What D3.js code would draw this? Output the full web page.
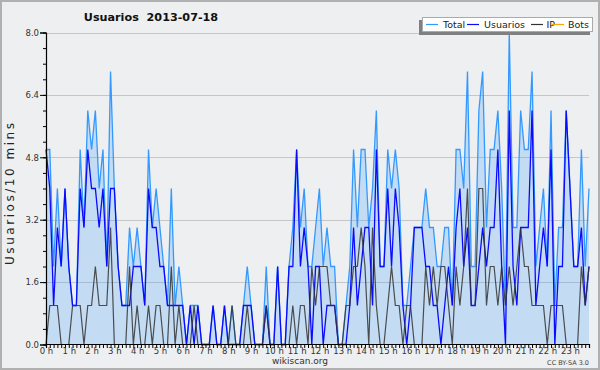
<!DOCTYPE html>
<html>
<head>
<meta charset="utf-8">
<script src="https://cdn.jsdelivr.net/npm/d3@7/dist/d3.min.js"></script>
<style>
  html, body { margin: 0; padding: 0; background: #eeeff0; }
  svg { display: block; }
  text { font-family: "DejaVu Sans", Verdana, sans-serif; }
</style>
</head>
<body>
<svg id="chart" width="600" height="370"></svg>
<script>
// ---- data (10-minute slots, 2013-07-18) ----
const title = "Usuarios  2013-07-18";
const yLabel = "Usuarios/10 mins";
const hourLabels = ["0 h","1 h","2 h","3 h","4 h","5 h","6 h","7 h","8 h","9 h","10 h","11 h",
  "12 h","13 h","14 h","15 h","16 h","17 h","18 h","19 h","20 h","21 h","22 h","23 h"];
const yTicks = [0, 1.6, 3.2, 4.8, 6.4, 8.0];
const seriesNames = ["Total", "Usuarios", "IP", "Bots"];

const total = [5,5,2,4,2,4,2,1,1,5,3,6,5,6,4,5,2,7,4,2,1,1,3,2,3,2,1,5,3,4,3,2,
  1,4,1,2,1,0,1,1,1,0,0,0,1,0,0,1,0,1,0,0,1,2,1,0,0,0,2,0,0,2,0,0,
  2,3,5,3,4,2,2,3,4,2,3,2,2,0,0,1,2,5,3,5,5,3,4,6,2,2,5,4,5,4,1,1,
  2,3,3,3,4,3,3,2,2,3,3,1,5,5,4,7,2,2,6,7,3,5,5,6,4,1,8,3,3,6,5,5,
  7,2,3,4,2,6,1,3,3,6,4,2,2,5,2,4];
const usuarios = [5,4,1,3,2,4,2,1,1,4,3,5,4,4,3,4,2,4,4,2,1,1,1,2,2,2,1,4,3,3,2,2,
  1,1,1,1,1,0,1,0,1,0,0,0,1,0,0,1,0,0,0,0,1,1,1,0,0,0,1,0,0,2,0,0,
  2,2,5,2,3,2,0,2,2,0,1,1,1,0,0,0,1,3,1,2,3,3,1,5,2,2,4,2,4,3,1,0,
  1,3,3,3,2,2,1,1,0,1,2,1,3,4,2,3,1,1,2,3,2,3,3,5,2,0,6,2,1,3,3,3,
  6,1,2,3,2,5,0,2,2,6,4,2,2,3,1,2];
const ip = [0,1,1,1,0,0,0,1,1,1,0,1,1,2,1,1,1,3,0,0,0,0,2,0,1,0,0,1,0,1,1,0,
  0,2,0,1,0,0,0,1,0,0,0,0,0,0,0,0,0,1,0,0,0,1,0,0,0,0,1,0,0,0,0,0,
  0,1,0,1,1,0,2,1,2,2,2,1,1,0,0,1,1,2,2,3,2,0,3,1,0,0,1,2,1,1,0,1,
  1,0,0,0,2,1,2,1,2,2,1,0,2,1,2,4,1,1,4,4,1,2,2,1,2,1,2,1,2,3,2,2,
  1,1,1,1,0,1,1,1,1,0,0,0,0,2,1,2];
const bots = new Array(total.length).fill(0);

const colors = { Total: "#3399ff", Usuarios: "#0a0aff", IP: "#333333", Bots: "#ffa500" };

// ---- layout ----
const svg = d3.select("#chart");
const W = 600, H = 370;
const x = d3.scaleLinear().domain([0, total.length - 1]).range([46, 589]);
const y = d3.scaleLinear().domain([0, 8]).range([344.5, 32.5]);

svg.append("rect").attr("x", 0).attr("y", 0).attr("width", W).attr("height", H).attr("fill", "#eeeff0");

// gridlines
svg.append("g").selectAll("line").data(yTicks.filter(d => d > 0)).join("line")
  .attr("x1", 46).attr("x2", 589)
  .attr("y1", d => Math.round(y(d)) + 0.5).attr("y2", d => Math.round(y(d)) + 0.5)
  .attr("stroke", "#c6c6c6").attr("stroke-width", 1);

// area under total
const idx = d3.range(total.length);
svg.append("path").datum(idx)
  .attr("d", d3.area().x(i => x(i)).y0(y(0)).y1(i => y(total[i])))
  .attr("fill", "#3399ff").attr("fill-opacity", 0.22);

const line = arr => d3.line().x(i => x(i)).y(i => y(arr[i]));
const lw = 1.3;
svg.append("path").datum(idx).attr("d", line(bots)).attr("fill", "none")
  .attr("stroke", colors.Bots).attr("stroke-width", 1);
svg.append("path").datum(idx).attr("d", line(total)).attr("fill", "none")
  .attr("stroke", colors.Total).attr("stroke-width", lw);
svg.append("path").datum(idx).attr("d", line(usuarios)).attr("fill", "none")
  .attr("stroke", colors.Usuarios).attr("stroke-width", lw);
svg.append("path").datum(idx).attr("d", line(ip)).attr("fill", "none")
  .attr("stroke", colors.IP).attr("stroke-width", 1.2).attr("stroke-opacity", 0.85);

// y axis: minor ticks every 0.4
const gyMinor = svg.append("g").attr("transform", "translate(46,0)")
  .call(d3.axisLeft(y).tickValues(d3.range(0, 8.01, 0.4)).tickSize(3).tickFormat(""));
gyMinor.select(".domain").remove();
gyMinor.selectAll("line").attr("stroke", "#000");
const gy = svg.append("g").attr("transform", "translate(46,0)")
  .call(d3.axisLeft(y).tickValues(yTicks).tickSize(6).tickPadding(1).tickFormat(d3.format(".1f")));
gy.select(".domain").attr("stroke", "#000").attr("stroke-width", 1.2);
gy.selectAll("text").attr("font-size", 8.5).attr("fill", "#333").attr("font-family", "DejaVu Sans, sans-serif");

// x axis: ticks every 10 minutes, labels on hours
const gx = svg.append("g").attr("transform", "translate(0,344)")
  .call(d3.axisBottom(x).tickValues(idx).tickSize(4).tickPadding(0)
    .tickFormat(i => (i % 6 === 0 ? hourLabels[i / 6] : "")));
gx.select(".domain").attr("stroke", "#000").attr("stroke-width", 1.2);
gx.selectAll("line").attr("stroke", "#000");
gx.selectAll("text").attr("font-size", 8.5).attr("fill", "#333").attr("font-family", "DejaVu Sans, sans-serif");

// title
svg.append("text").attr("x", 151).attr("y", 21).attr("text-anchor", "middle")
  .attr("font-size", 11.2).attr("font-weight", "bold").attr("fill", "#111")
  .attr("xml:space", "preserve").style("white-space", "pre").text(title);

// y label
svg.append("text").attr("transform", "translate(14,194) rotate(-90)")
  .attr("text-anchor", "middle").attr("font-size", 12).attr("fill", "#222")
  .attr("font-family", "DejaVu Sans Mono, monospace")
  .attr("textLength", 142).attr("lengthAdjust", "spacing").text(yLabel);

// footer
svg.append("text").attr("x", 300).attr("y", 364).attr("text-anchor", "middle")
  .attr("font-size", 9).attr("fill", "#333").text("wikiscan.org");
svg.append("text").attr("x", 589).attr("y", 365).attr("text-anchor", "end")
  .attr("font-size", 6.5).attr("fill", "#444").text("CC BY-SA 3.0");

// legend
const lg = svg.append("g");
lg.append("rect").attr("x", 419).attr("y", 20).attr("width", 171).attr("height", 15).attr("fill", "#808080");
lg.append("rect").attr("x", 422.5).attr("y", 17.5).attr("width", 170).attr("height", 14)
  .attr("fill", "#fff").attr("stroke", "#aaa").attr("stroke-width", 1);
const legendPos = [
  { lx: 426, tx: 443 },
  { lx: 467, tx: 484 },
  { lx: 531, tx: 546.5 },
  { lx: 552, tx: 568 }
];
seriesNames.forEach((name, k) => {
  const p = legendPos[k];
  lg.append("line").attr("x1", p.lx).attr("x2", p.lx + 12).attr("y1", 24.5).attr("y2", 24.5)
    .attr("stroke", colors[name]).attr("stroke-width", 1.2);
  lg.append("text").attr("x", p.tx).attr("y", 28).attr("font-size", 9.5).attr("fill", "#222").text(name);
});

// outer frame
svg.append("rect").attr("x", 1).attr("y", 1).attr("width", W - 2).attr("height", H - 2)
  .attr("fill", "none").attr("stroke", "#b0b0b0").attr("stroke-width", 2);
</script>
</body>
</html>
